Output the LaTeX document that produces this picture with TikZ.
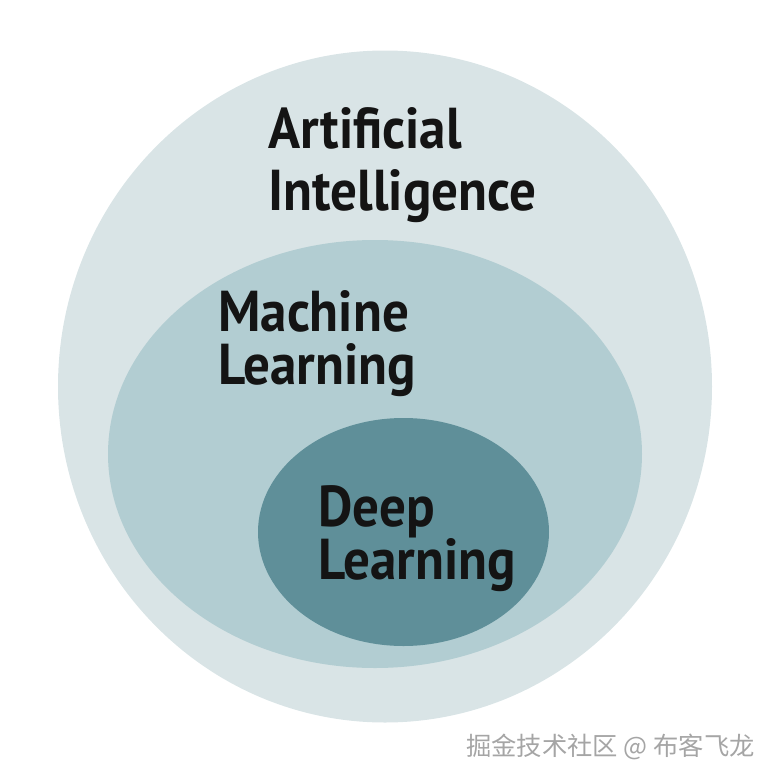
\documentclass[tikz,border=0pt]{standalone}
\usepackage{fontspec}
\setmainfont{PT Sans}
\newfontfamily\narrowfont[FakeStretch=0.92]{PT Sans}
\newfontfamily\cjkfont{Noto Sans CJK SC}
\usepackage{xcolor}
\usepackage{tikz}
\usetikzlibrary{positioning}
\definecolor{aifill}{RGB}{217,228,230}
\definecolor{mlfill}{RGB}{178,205,210}
\definecolor{dlfill}{RGB}{95,143,153}
\definecolor{mytext}{RGB}{20,20,20}
\definecolor{markgray}{RGB}{165,165,165}
\tikzset{
  regiontext/.style={anchor=base west, inner sep=0pt, text=mytext, align=left,
    font=\fontsize{41}{#1}\narrowfont\bfseries},
  wmark/.style={anchor=base east, inner sep=0pt, text=markgray,
    font=\fontsize{18}{21}\selectfont\cjkfont}
}
\begin{document}
\begin{tikzpicture}[x=0.025cm, y=-0.025cm]
  % Fix the page size
  \useasboundingbox (0,0) rectangle (776,784);

  % Nested regions
  \fill[aifill] (385,386.5) ellipse [x radius=327, y radius=336];
  \fill[mlfill] (375,454) ellipse [x radius=267, y radius=214];
  \fill[dlfill] (403.5,532) ellipse [x radius=145.5, y radius=114];

  % Labels (anchored at the baseline of the second line)
  \node[regiontext=43.4pt] (ai) at (268,210) {Artificial\\Intelligence};
  \node[regiontext=37.5pt] (ml) at (218,384) {Machine\\Learning};
  \node[regiontext=37.5pt] (dl) at (318,579) {Deep\\Learning};

  % Watermark
  \node[wmark] (wm) at (755,755) {掘金技术社区 @ 布客飞龙};
\end{tikzpicture}
\end{document}
